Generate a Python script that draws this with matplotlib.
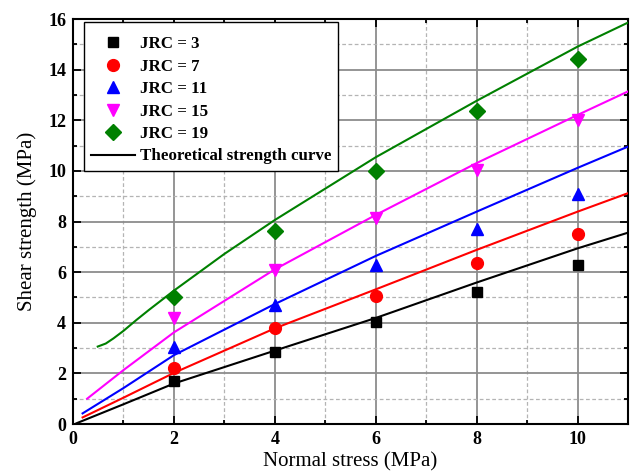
import matplotlib
matplotlib.use("Agg")
import matplotlib.pyplot as plt
from matplotlib.ticker import MultipleLocator

plt.rcParams['font.family'] = ['Liberation Serif', 'DejaVu Serif']
plt.rcParams['mathtext.fontset'] = 'stix'

# experimental data
sigma_exp = [2, 4, 6, 8, 10]
jrc_labels = ["JRC = 3", "JRC = 7", "JRC = 11", "JRC = 15", "JRC = 19"]
tau_jrc3 = [1.70, 2.86, 4.05, 5.20, 6.30]
tau_jrc7 = [2.20, 3.78, 5.05, 6.35, 7.50]
tau_jrc11 = [3.05, 4.72, 6.30, 7.70, 9.10]
tau_jrc15 = [4.20, 6.10, 8.15, 10.02, 12.02]
tau_jrc19 = [5.00, 7.62, 10.00, 12.38, 14.42]

# theoretical curves
curve3_x = [0.07, 1.0, 2.0, 4.0, 6.0, 8.0, 10.0, 11.0]
curve3_y = [0.03, 0.78, 1.60, 2.90, 4.19, 5.59, 6.94, 7.56]
curve7_x = [0.19, 1.0, 2.0, 4.0, 6.0, 8.0, 10.0, 11.0]
curve7_y = [0.26, 1.04, 2.02, 3.78, 5.32, 6.88, 8.39, 9.12]
curve11_x = [0.19, 1.0, 2.0, 4.0, 6.0, 8.0, 10.0, 11.0]
curve11_y = [0.42, 1.42, 2.72, 4.74, 6.64, 8.39, 10.12, 10.96]
curve15_x = [0.28, 1.0, 2.0, 4.0, 6.0, 8.0, 10.0, 11.0]
curve15_y = [1.00, 2.13, 3.62, 6.11, 8.26, 10.31, 12.21, 13.14]
curve19_x = [0.49, 0.65, 0.8, 1.0, 1.25, 1.5, 2.0, 3.0, 4.0, 6.0, 8.0, 10.0, 11.0]
curve19_y = [3.06, 3.18, 3.38, 3.68, 4.10, 4.50, 5.27, 6.72, 8.06, 10.54, 12.77, 14.91, 15.86]

colors = ["black", "red", "blue", "magenta", "green"]
markers = ["s", "o", "^", "v", "D"]
msizes = [7.5, 8.5, 9, 9, 8]

fig = plt.figure(figsize=(6.32, 4.76), dpi=100)
ax = fig.add_axes([0.1155, 0.1092, 0.8782, 0.8508])

exps = [tau_jrc3, tau_jrc7, tau_jrc11, tau_jrc15, tau_jrc19]
curves = [(curve3_x, curve3_y), (curve7_x, curve7_y), (curve11_x, curve11_y),
          (curve15_x, curve15_y), (curve19_x, curve19_y)]

ax.set_axisbelow(True)
ax.grid(which='major', color='#8c8c8c', linestyle='-', linewidth=1.3)
ax.grid(which='minor', color='#b4b4b4', linestyle=(0, (3, 2)), linewidth=0.9)

for (cx, cy), c in zip(curves, colors):
    ax.plot(cx, cy, color=c, linewidth=1.5, zorder=3)

handles = []
for y, c, m, ms, lab in zip(exps, colors, markers, msizes, jrc_labels):
    h, = ax.plot(sigma_exp, y, linestyle='none', marker=m, color=c,
                 markersize=ms, label=lab, zorder=4)
    handles.append(h)
lh, = ax.plot([], [], color='black', linewidth=1.5, label='Theoretical strength curve')
handles.append(lh)

ax.set_xlim(0, 11)
ax.set_ylim(0, 16)
ax.xaxis.set_major_locator(MultipleLocator(2))
ax.xaxis.set_minor_locator(MultipleLocator(1))
ax.yaxis.set_major_locator(MultipleLocator(2))
ax.yaxis.set_minor_locator(MultipleLocator(1))
ax.tick_params(which='both', direction='in', top=True, right=True, width=1.3)
ax.tick_params(which='major', length=6, labelsize=13, pad=5)
ax.tick_params(which='minor', length=3)
for lbl in ax.get_xticklabels() + ax.get_yticklabels():
    lbl.set_fontweight('bold')
for s in ax.spines.values():
    s.set_linewidth(1.5)

ax.set_xlabel('Normal stress (MPa)', fontsize=15, labelpad=3)
ax.set_ylabel('Shear strength (MPa)', fontsize=15, labelpad=8)

leg = ax.legend(handles=handles, loc='upper left',
                bbox_to_anchor=(0.0198, 0.9926), borderaxespad=0,
                prop={'weight': 'bold', 'size': 12.2}, fancybox=False,
                edgecolor='black', framealpha=1, borderpad=0.4,
                labelspacing=0.38, handlelength=2.6, handletextpad=0.3,
                title=' ', title_fontsize=1)
leg.get_frame().set_linewidth(1.0)

fig.savefig('out.png', dpi=100)
